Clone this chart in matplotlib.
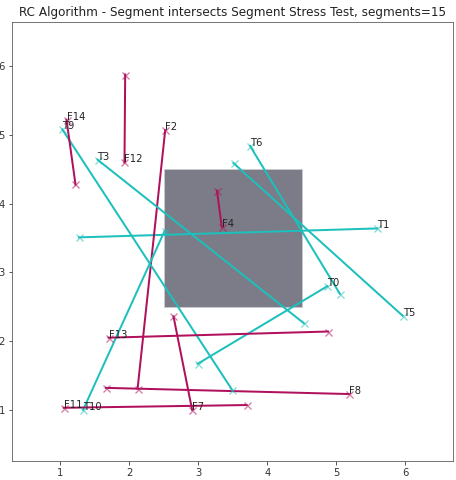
import matplotlib.pyplot as plt
from matplotlib.patches import Rectangle

# Segment endpoints: labelled end (x, y) and the other end (x, y)
NAMES = ['T0', 'T1', 'F2', 'T3', 'F4', 'T5', 'T6', 'F7',
         'F8', 'T9', 'T10', 'F11', 'F12', 'F13', 'F14']
LABEL_X = [4.87, 5.59, 2.52, 1.54, 3.34, 5.96, 3.75, 2.91,
           5.18, 1.03, 1.33, 1.05, 1.93, 1.70, 1.09]
LABEL_Y = [2.80, 3.64, 5.07, 4.64, 3.66, 2.37, 4.84, 1.00,
           1.23, 5.08, 1.00, 1.03, 4.60, 2.05, 5.22]
OTHER_X = [2.99, 1.27, 2.12, 4.53, 3.27, 3.51, 5.05, 2.64,
           1.66, 3.49, 2.51, 3.70, 1.94, 4.88, 1.22]
OTHER_Y = [1.67, 3.51, 1.31, 2.26, 4.19, 4.59, 2.69, 2.36,
           1.32, 1.29, 3.60, 1.07, 5.88, 2.14, 4.28]

# Test rectangle
RECT_X, RECT_Y, RECT_W, RECT_H = 2.5, 2.5, 2.0, 2.0

TRUE_COLOR = '#1cc0bc'
FALSE_COLOR = '#b0105c'

fig = plt.figure(figsize=(456 / 72, 480 / 72), dpi=72)
ax = fig.add_axes([12 / 456, 19.3 / 480, 441 / 456, 438.4 / 480])

ax.add_patch(Rectangle((RECT_X, RECT_Y), RECT_W, RECT_H,
                       facecolor='#7b7c87', edgecolor='#c8c9cf', lw=1, zorder=1))

for name, lx, ly, ox, oy in zip(NAMES, LABEL_X, LABEL_Y, OTHER_X, OTHER_Y):
    color = TRUE_COLOR if name.startswith('T') else FALSE_COLOR
    ax.plot([ox, lx], [oy, ly], '-', color=color, lw=2, zorder=2)
    ax.plot([ox, lx], [oy, ly], 'x', color=color, alpha=0.55, ms=7, mew=1.3, zorder=3)
    ax.text(lx, ly, name, fontsize=10, color='#222222', zorder=4)

ax.set_xlim(0.30, 6.69)
ax.set_ylim(0.26, 6.64)
ax.set_xticks([1, 2, 3, 4, 5, 6])
ax.set_yticks([1, 2, 3, 4, 5, 6])
for s in ax.spines.values():
    s.set_color('#555555')
ax.tick_params(colors='#333333', labelsize=10)
ax.set_title('RC Algorithm - Segment intersects Segment Stress Test, segments=15',
             fontsize=12, color='#222222')

fig.savefig('out.png', dpi=72)
